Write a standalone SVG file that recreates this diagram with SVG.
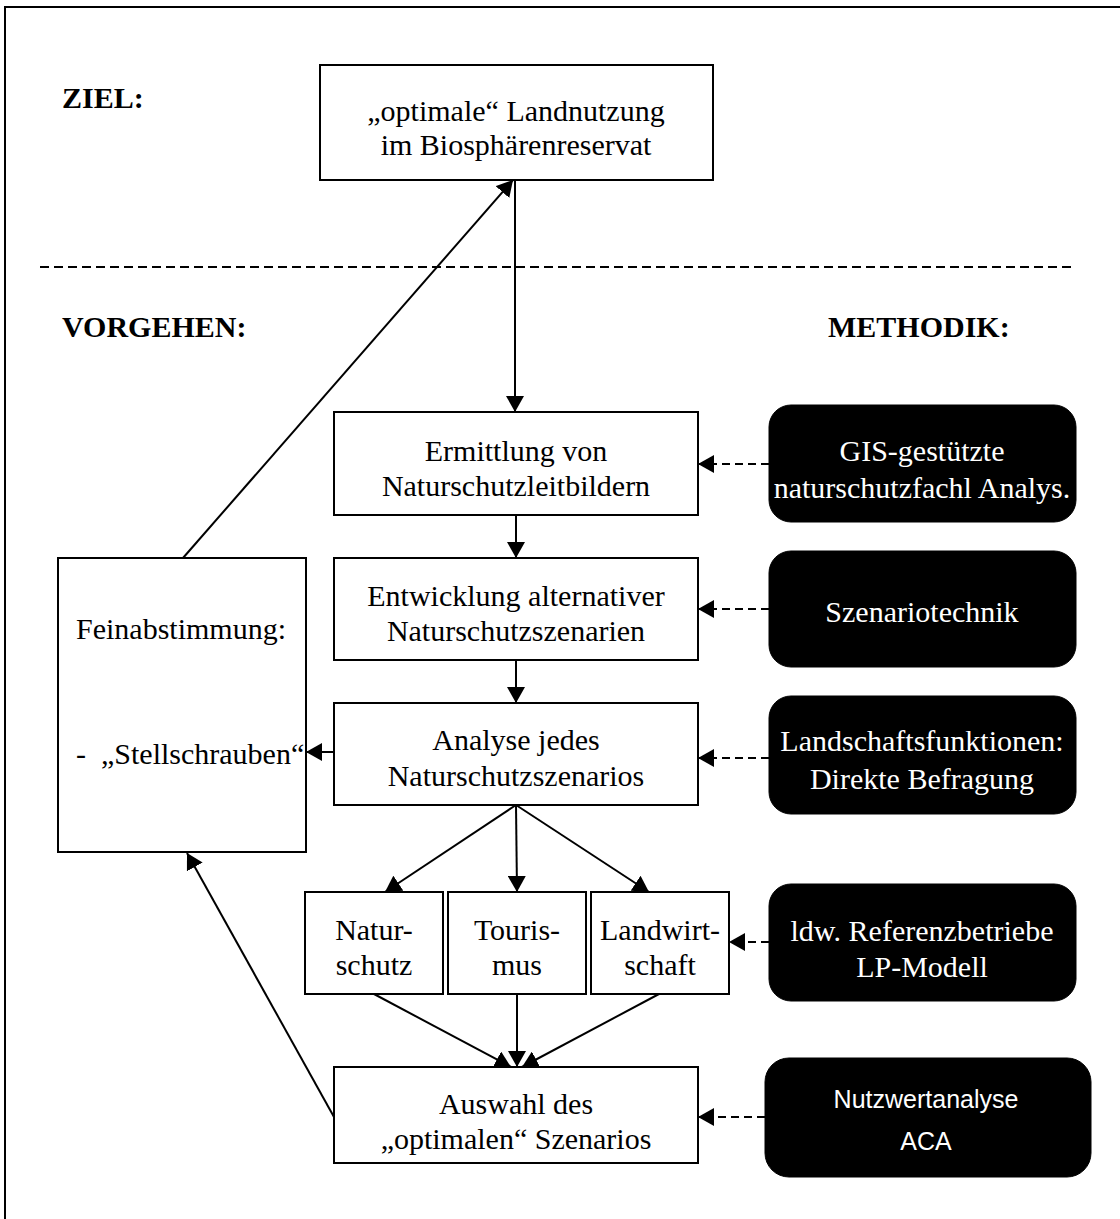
<svg xmlns="http://www.w3.org/2000/svg" width="1120" height="1219" viewBox="0 0 1120 1219">
<style>
.box{fill:#fff;stroke:#000;stroke-width:2}
.dark{fill:#000;stroke:#000;stroke-width:1}
.t{font-family:"Liberation Serif","Times New Roman",serif;font-size:30px;fill:#000;text-anchor:middle}
.tl{font-family:"Liberation Serif","Times New Roman",serif;font-size:30px;fill:#000;text-anchor:start}
.tw{font-family:"Liberation Serif","Times New Roman",serif;font-size:30px;fill:#fff;text-anchor:middle}
.ts{font-family:"Liberation Sans",Arial,sans-serif;font-size:25px;fill:#fff;text-anchor:middle}
.h{font-family:"Liberation Serif","Times New Roman",serif;font-size:30px;font-weight:bold;fill:#000}
.ln{stroke:#000;stroke-width:2;fill:none}
.dl{stroke:#000;stroke-width:2;fill:none;stroke-dasharray:8 5}
</style>
<defs>
<marker id="ah" viewBox="0 0 16 18" refX="16" refY="9" markerWidth="16" markerHeight="18" markerUnits="userSpaceOnUse" orient="auto">
<path d="M0,0 L16,9 L0,18 z" fill="#000"/>
</marker>
</defs>
<rect x="5" y="7" width="1200" height="1300" fill="#fff" stroke="#000" stroke-width="2"/>
<text class="h" x="62" y="108">ZIEL:</text>
<text class="h" x="62" y="337">VORGEHEN:</text>
<text class="h" x="828" y="337">METHODIK:</text>
<line x1="40" y1="267" x2="1075" y2="267" stroke="#000" stroke-width="2" stroke-dasharray="9 5"/>

<g id="ziel">
<rect class="box" x="320" y="65" width="393" height="115"/>
<text class="t" x="516" y="121">„optimale“  Landnutzung</text>
<text class="t" x="516" y="155">im Biosphärenreservat</text>
</g>
<g id="ermittlung">
<rect class="box" x="334" y="412" width="364" height="103"/>
<text class="t" x="516" y="461">Ermittlung von</text>
<text class="t" x="516" y="496">Naturschutzleitbildern</text>
</g>
<g id="entwicklung">
<rect class="box" x="334" y="558" width="364" height="102"/>
<text class="t" x="516" y="606">Entwicklung alternativer</text>
<text class="t" x="516" y="641">Naturschutzszenarien</text>
</g>
<g id="analyse">
<rect class="box" x="334" y="703" width="364" height="102"/>
<text class="t" x="516" y="750">Analyse jedes</text>
<text class="t" x="516" y="786">Naturschutzszenarios</text>
</g>
<g id="naturschutz">
<rect class="box" x="305" y="892" width="138" height="102"/>
<text class="t" x="374" y="940">Natur-</text>
<text class="t" x="374" y="975">schutz</text>
</g>
<g id="tourismus">
<rect class="box" x="448" y="892" width="138" height="102"/>
<text class="t" x="517" y="940">Touris-</text>
<text class="t" x="517" y="975">mus</text>
</g>
<g id="landwirtschaft">
<rect class="box" x="591" y="892" width="138" height="102"/>
<text class="t" x="660" y="940">Landwirt-</text>
<text class="t" x="660" y="975">schaft</text>
</g>
<g id="auswahl">
<rect class="box" x="334" y="1067" width="364" height="96"/>
<text class="t" x="516" y="1114">Auswahl des</text>
<text class="t" x="516" y="1149">„optimalen“ Szenarios</text>
</g>
<g id="feinabstimmung">
<rect class="box" x="58" y="558" width="248" height="294"/>
<text class="tl" x="76" y="639">Feinabstimmung:</text>
<text class="tl" x="76" y="764" xml:space="preserve">-  „Stellschrauben“</text>
</g>
<g id="gis">
<rect class="dark" x="769" y="405" width="307" height="117" rx="22"/>
<text class="tw" x="922" y="461">GIS-gestützte</text>
<text class="tw" x="922" y="498">naturschutzfachl Analys.</text>
</g>
<g id="szenariotechnik">
<rect class="dark" x="769" y="551" width="307" height="116" rx="22"/>
<text class="tw" x="922" y="622">Szenariotechnik</text>
</g>
<g id="landschaftsfunktionen">
<rect class="dark" x="769" y="696" width="307" height="118" rx="22"/>
<text class="tw" x="922" y="751">Landschaftsfunktionen:</text>
<text class="tw" x="922" y="789">Direkte Befragung</text>
</g>
<g id="ldw">
<rect class="dark" x="769" y="884" width="307" height="117" rx="22"/>
<text class="tw" x="922" y="941">ldw. Referenzbetriebe</text>
<text class="tw" x="922" y="977">LP-Modell</text>
</g>
<g id="nutzwert">
<rect class="dark" x="765" y="1058" width="326" height="119" rx="24"/>
<text class="ts" x="926" y="1108">Nutzwertanalyse</text>
<text class="ts" x="926" y="1150">ACA</text>
</g>

<g id="connectors">
<line class="ln" x1="515" y1="180" x2="515" y2="412" marker-end="url(#ah)"/>
<line class="ln" x1="516" y1="515" x2="516" y2="558" marker-end="url(#ah)"/>
<line class="ln" x1="516" y1="660" x2="516" y2="703" marker-end="url(#ah)"/>
<line class="ln" x1="516" y1="805" x2="385" y2="892" marker-end="url(#ah)"/>
<line class="ln" x1="516" y1="805" x2="517" y2="892" marker-end="url(#ah)"/>
<line class="ln" x1="516" y1="805" x2="649" y2="892" marker-end="url(#ah)"/>
<line class="ln" x1="374" y1="994" x2="511" y2="1067" marker-end="url(#ah)"/>
<line class="ln" x1="517" y1="994" x2="517" y2="1067" marker-end="url(#ah)"/>
<line class="ln" x1="659" y1="994" x2="522" y2="1067" marker-end="url(#ah)"/>
<line class="ln" x1="334" y1="752" x2="306" y2="752" marker-end="url(#ah)"/>
<line class="ln" x1="183" y1="558" x2="513" y2="180" marker-end="url(#ah)"/>
<line class="ln" x1="334" y1="1117" x2="187" y2="853" marker-end="url(#ah)"/>
<line class="dl" x1="769" y1="464" x2="698" y2="464" marker-end="url(#ah)"/>
<line class="dl" x1="769" y1="609" x2="698" y2="609" marker-end="url(#ah)"/>
<line class="dl" x1="769" y1="758" x2="698" y2="758" marker-end="url(#ah)"/>
<line class="dl" x1="769" y1="942" x2="729" y2="942" marker-end="url(#ah)"/>
<line class="dl" x1="765" y1="1117" x2="698" y2="1117" marker-end="url(#ah)"/>
</g>
</svg>
